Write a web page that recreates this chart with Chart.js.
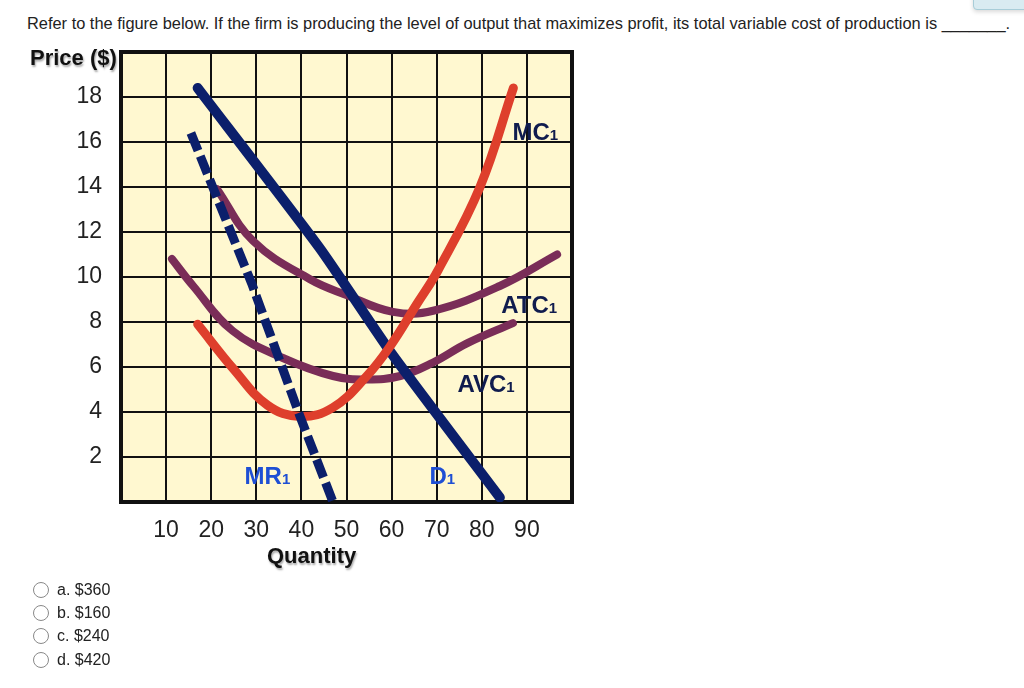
<!DOCTYPE html>
<html>
<head>
<meta charset="utf-8">
<script src="https://cdn.jsdelivr.net/npm/chart.js@4.4.1/dist/chart.umd.min.js"></script>
<style>
  body { margin: 0; background: #fff; font-family: "Liberation Sans", Arial, Helvetica, sans-serif; color: #222; }
  #wrap { position: relative; width: 1024px; height: 688px; overflow: hidden; }
  #question { position: absolute; left: 27px; top: 14px; font-size: 16.4px; white-space: nowrap; }
  #chartBox { position: absolute; left: 0; top: 40px; }
  .axisTitle { position: absolute; font-weight: bold; font-size: 22px; color: #111; text-shadow: 1px 2px 2px #aaa; white-space: nowrap; }
  #answers { position: absolute; left: 33px; top: 578px; font-size: 16px; }
  .opt { height: 23.3px; display: flex; align-items: center; }
  .opt span.rb { display: inline-block; width: 14px; height: 14px; border: 1px solid #888; border-radius: 50%; margin-right: 8px; background: #fff; }
  #btn { position: absolute; left: 973px; top: -8px; width: 70px; height: 16px; background: #d9ebf1; border: 1px solid #a8cdd8; border-radius: 4px; box-shadow: 0 2px 4px rgba(0,0,0,0.15); }
</style>
</head>
<body>
<div id="wrap">
  <div id="btn"></div>
  <div id="question">Refer to the figure below. If the firm is producing the level of output that maximizes profit, its total variable cost of production is _______.</div>
  <div id="chartBox"><canvas id="myChart" width="600" height="540"></canvas></div>
  <div class="axisTitle" style="left:30px; top:45px;">Price ($)</div>
  <div class="axisTitle" style="left:267px; top:543px;">Quantity</div>
  <div id="answers">
    <div class="opt"><span class="rb"></span>a. $360</div>
    <div class="opt"><span class="rb"></span>b. $160</div>
    <div class="opt"><span class="rb"></span>c. $240</div>
    <div class="opt"><span class="rb"></span>d. $420</div>
  </div>
</div>
<script>
// tick labels
var xTicks = [10, 20, 30, 40, 50, 60, 70, 80, 90];
var yTicks = [2, 4, 6, 8, 10, 12, 14, 16, 18];

// demand D1
var dQty = [17, 44, 60, 84];
var dPrice = [18.4, 11.3, 6.6, 0.2];
// marginal revenue MR1
var mrQty = [15.5, 29, 39.7, 47];
var mrPrice = [16.4, 9.7, 3.8, 0];
// marginal cost MC1
var mcQty = [17, 25, 32.5, 39.7, 47, 54.5, 59.6, 65.6, 70.3, 79.6, 87];
var mcPrice = [7.9, 5.9, 4.3, 3.8, 4.2, 5.6, 6.9, 8.8, 10.3, 14.0, 18.4];
// average total cost ATC1
var atcQty = [21.3, 29.3, 41.9, 50, 60.3, 69.2, 84, 96.7];
var atcPrice = [13.9, 11.6, 9.9, 9.2, 8.45, 8.5, 9.6, 11.0];
// average variable cost AVC1
var avcQty = [11.3, 16, 24.8, 35.9, 47, 54.5, 61.9, 69.2, 76.7, 86.9];
var avcPrice = [10.8, 9.6, 7.6, 6.4, 5.6, 5.45, 5.6, 6.2, 7.05, 7.95];

function pts(q, p) {
  return q.map(function (v, i) { return { x: v, y: p[i] }; });
}

var navy = "#0b1f6b";
var red = "#de3f2c";
var purple = "#7a2d58";

// curve labels (name, subscript, anchor in data units)
var labels = [
  { text: "MC", sub: "1", x: 86.8, y: 16.1, color: "#101c4e" },
  { text: "ATC", sub: "1", x: 84.3, y: 8.4, color: "#101c4e" },
  { text: "AVC", sub: "1", x: 74.6, y: 4.9, color: "#101c4e" },
  { text: "MR", sub: "1", x: 27.4, y: 0.8, color: "#1e4fd4" },
  { text: "D", sub: "1", x: 68.4, y: 0.8, color: "#1e4fd4" }
];

var plotFrame = {
  id: "plotFrame",
  beforeDraw: function (chart) {
    var a = chart.chartArea, ctx = chart.ctx;
    ctx.save();
    ctx.fillStyle = "#fff8d0";
    ctx.fillRect(a.left, a.top, a.right - a.left, a.bottom - a.top);
    ctx.restore();
  },
  beforeDatasetsDraw: function (chart) {
    var a = chart.chartArea, ctx = chart.ctx;
    ctx.save();
    ctx.strokeStyle = "#111";
    ctx.lineWidth = 4;
    ctx.strokeRect(a.left, a.top, a.right - a.left, a.bottom - a.top);
    ctx.restore();
  },
  afterDatasetsDraw: function (chart) {
    var ctx = chart.ctx, xs = chart.scales.x, ys = chart.scales.y;
    ctx.save();
    ctx.textBaseline = "alphabetic";
    ctx.textAlign = "left";
    labels.forEach(function (l) {
      var px = xs.getPixelForValue(l.x), py = ys.getPixelForValue(l.y);
      ctx.fillStyle = l.color;
      ctx.font = "bold 24px 'Liberation Sans', Arial, sans-serif";
      ctx.fillText(l.text, px, py);
      var w = ctx.measureText(l.text).width;
      ctx.font = "bold 15px 'Liberation Sans', Arial, sans-serif";
      ctx.fillText(l.sub, px + w, py);
    });
    ctx.restore();
  }
};

var lineStyle = { showLine: true, pointRadius: 0, fill: false, borderJoinStyle: "round", borderCapStyle: "round" };

new Chart("myChart", {
  type: "scatter",
  data: {
    datasets: [
      Object.assign({}, lineStyle, { label: "MR1", data: pts(mrQty, mrPrice), borderColor: navy, borderWidth: 9, borderDash: [19, 6], borderCapStyle: "butt", tension: 0 }),
      Object.assign({}, lineStyle, { label: "MC1", data: pts(mcQty, mcPrice), borderColor: red, borderWidth: 9, tension: 0.4 }),
      Object.assign({}, lineStyle, { label: "D1", data: pts(dQty, dPrice), borderColor: navy, borderWidth: 10, tension: 0.2 }),
      Object.assign({}, lineStyle, { label: "ATC1", data: pts(atcQty, atcPrice), borderColor: purple, borderWidth: 8, tension: 0.4 }),
      Object.assign({}, lineStyle, { label: "AVC1", data: pts(avcQty, avcPrice), borderColor: purple, borderWidth: 8, tension: 0.4 })
    ]
  },
  options: {
    responsive: false,
    animation: false,
    devicePixelRatio: 1,
    layout: { padding: { left: 0, top: 12, right: 28, bottom: 0 } },
    plugins: { legend: { display: false }, tooltip: { enabled: false } },
    scales: {
      x: {
        type: "linear", min: 0, max: 100,
        afterFit: function (s) { s.height = 78; s.paddingLeft = 0; s.paddingRight = 0; },
        grid: { color: "#111", lineWidth: 2, drawTicks: false },
        border: { display: false },
        ticks: {
          stepSize: 10, padding: 15, color: "#222",
          font: { family: "'Liberation Sans', Arial, sans-serif", size: 23 },
          callback: function (v) { return xTicks.indexOf(v) >= 0 ? String(v) : ""; }
        }
      },
      y: {
        type: "linear", min: 0, max: 20,
        afterFit: function (s) { s.width = 121; s.paddingTop = 0; s.paddingBottom = 0; },
        grid: { color: "#111", lineWidth: 2, drawTicks: false },
        border: { display: false },
        ticks: {
          stepSize: 2, padding: 19, color: "#222",
          font: { family: "'Liberation Sans', Arial, sans-serif", size: 23 },
          callback: function (v) { return yTicks.indexOf(v) >= 0 ? String(v) : ""; }
        }
      }
    }
  },
  plugins: [plotFrame]
});
</script>
</body>
</html>
